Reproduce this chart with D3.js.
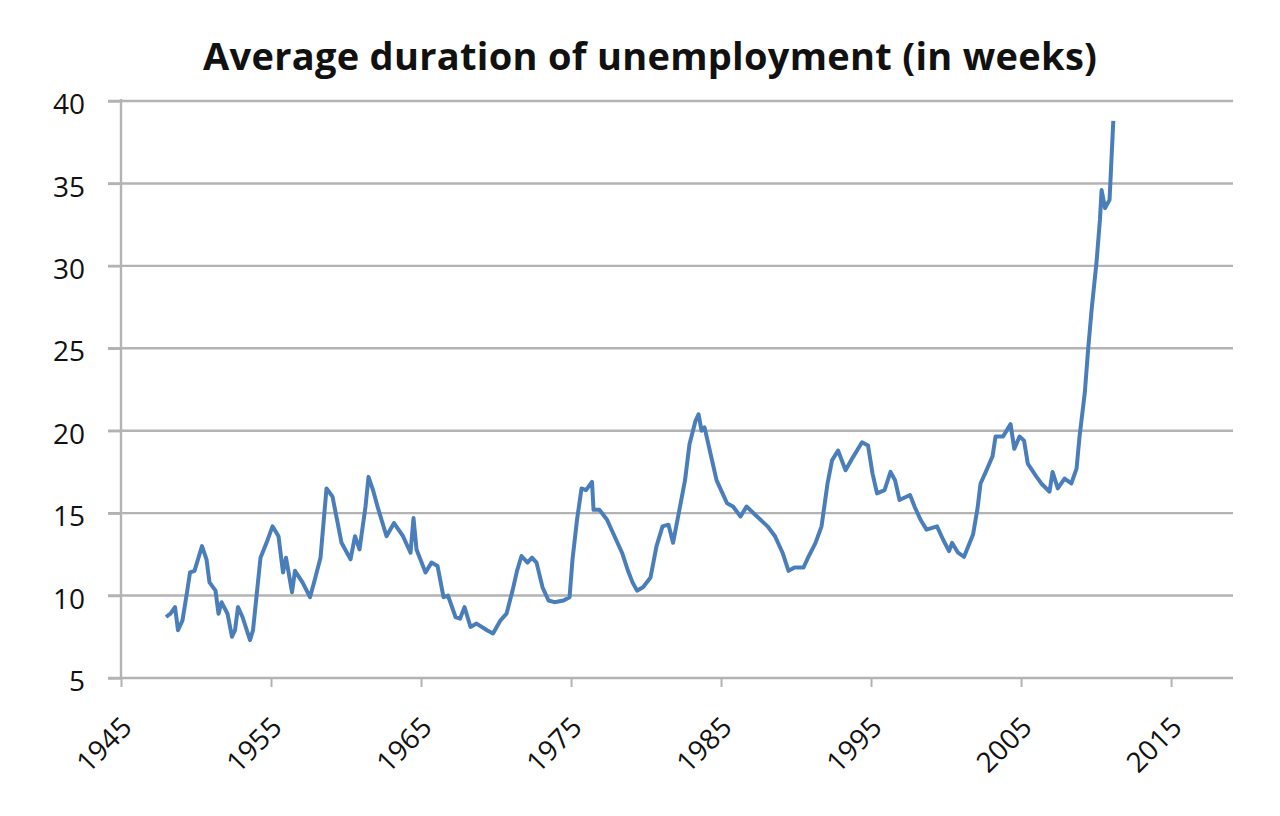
<!DOCTYPE html>
<html>
<head>
<meta charset="utf-8">
<script src="https://cdn.jsdelivr.net/npm/d3@7"></script>
<style>
  body { margin: 0; background: #fff; }
  text { font-family: "Open Sans", Lato, sans-serif; fill: #111; }
</style>
</head>
<body>
<div id="chart"></div>
<script>
// data (year, average weeks)
let years = [
  1948.0, 1948.3, 1948.6, 1948.8, 1949.1, 1949.4, 1949.6, 1949.9, 1950.4, 1950.7,
  1950.9, 1951.3, 1951.5, 1951.7, 1952.1, 1952.4, 1952.6, 1952.8, 1953.1, 1953.6,
  1953.8, 1954.3, 1954.7, 1955.1, 1955.5, 1955.8, 1956.0, 1956.4, 1956.6, 1957.1,
  1957.6, 1957.9, 1958.3, 1958.7, 1959.1, 1959.4, 1959.7, 1960.3, 1960.6, 1960.9,
  1961.3, 1961.5, 1961.8, 1962.1, 1962.7, 1963.2, 1963.8, 1964.3, 1964.5, 1964.7,
  1965.3, 1965.7, 1966.1, 1966.5, 1966.8, 1967.3, 1967.6, 1967.9, 1968.3, 1968.7,
  1969.4, 1969.8, 1970.3, 1970.7, 1971.1, 1971.4, 1971.7, 1972.1, 1972.4, 1972.7,
  1973.1, 1973.5, 1973.9, 1974.5, 1974.9, 1975.1, 1975.4, 1975.7, 1976.0, 1976.4,
  1976.5, 1976.9, 1977.4, 1977.9, 1978.4, 1978.8, 1979.1, 1979.4, 1979.8, 1980.3,
  1980.7, 1981.1, 1981.5, 1981.8, 1982.1, 1982.6, 1982.9, 1983.3, 1983.5, 1983.7,
  1983.9, 1984.3, 1984.7, 1985.1, 1985.4, 1985.8, 1986.3, 1986.7, 1987.4, 1988.1,
  1988.6, 1989.1, 1989.5, 1989.9, 1990.5, 1990.8, 1991.3, 1991.7, 1992.1, 1992.4,
  1992.8, 1993.3, 1993.8, 1994.4, 1994.8, 1995.1, 1995.4, 1995.9, 1996.3, 1996.6,
  1996.9, 1997.6, 1997.9, 1998.3, 1998.7, 1999.4, 1999.8, 2000.2, 2000.4, 2000.8,
  2001.2, 2001.8, 2002.1, 2002.3, 2002.65, 2003.1, 2003.3, 2003.8, 2004.3, 2004.55,
  2004.9, 2005.2, 2005.45, 2006.0, 2006.35, 2006.9, 2007.1, 2007.45, 2007.9, 2008.35,
  2008.7, 2008.9, 2009.25, 2009.47, 2009.7, 2010.03, 2010.26, 2010.37, 2010.6, 2010.9,
  2011.15
];
let weeks = [
  8.7, 8.9, 9.3, 7.9, 8.5, 10.2, 11.4, 11.5, 13.0, 12.2,
  10.8, 10.3, 8.9, 9.6, 8.9, 7.5, 7.9, 9.3, 8.7, 7.3,
  7.9, 12.3, 13.2, 14.2, 13.6, 11.4, 12.3, 10.2, 11.5, 10.8,
  9.9, 10.9, 12.3, 16.5, 16.0, 14.6, 13.2, 12.2, 13.6, 12.8,
  15.4, 17.2, 16.4, 15.4, 13.6, 14.4, 13.6, 12.6, 14.7, 12.8,
  11.4, 12.0, 11.8, 9.9, 10.0, 8.7, 8.6, 9.3, 8.1, 8.3,
  7.9, 7.7, 8.5, 8.9, 10.3, 11.5, 12.4, 12.0, 12.3, 12.0,
  10.5, 9.7, 9.6, 9.7, 9.9, 12.2, 14.6, 16.5, 16.4, 16.9,
  15.2, 15.2, 14.6, 13.6, 12.6, 11.5, 10.8, 10.3, 10.5, 11.1,
  13.0, 14.2, 14.3, 13.2, 14.6, 17.0, 19.2, 20.6, 21.0, 20.0,
  20.2, 18.6, 17.0, 16.2, 15.6, 15.4, 14.8, 15.4, 14.8, 14.2,
  13.6, 12.6, 11.5, 11.7, 11.7, 12.3, 13.2, 14.2, 16.8, 18.2,
  18.8, 17.6, 18.4, 19.3, 19.1, 17.4, 16.2, 16.4, 17.5, 17.0,
  15.8, 16.1, 15.4, 14.6, 14.0, 14.2, 13.4, 12.7, 13.2, 12.6,
  12.35, 13.7, 15.3, 16.8, 17.5, 18.45, 19.65, 19.65, 20.4, 18.9,
  19.65, 19.4, 18.0, 17.25, 16.8, 16.3, 17.5, 16.5, 17.1, 16.8,
  17.7, 19.65, 22.3, 24.9, 27.3, 30.2, 32.8, 34.6, 33.5, 34.0,
  38.8
];
let yTicks = [5, 10, 15, 20, 25, 30, 35, 40];
let xTicks = [1945, 1955, 1965, 1975, 1985, 1995, 2005, 2015];
let title = 'Average duration of unemployment (in weeks)';

// svg size and plot area
let svgWidth = 1280;
let svgHeight = 816;
let margin = { top: 101, right: 47, bottom: 138, left: 121 };
let width = svgWidth - margin.left - margin.right;
let height = svgHeight - margin.top - margin.bottom;

let svg = d3.select('#chart')
  .append('svg')
  .attr('width', svgWidth)
  .attr('height', svgHeight);

let chartGroup = svg.append('g')
  .attr('transform', `translate(${margin.left}, ${margin.top})`);

// scales
let xScale = d3.scaleLinear()
  .domain([1945, 2019.13])
  .range([0, width]);

let yScale = d3.scaleLinear()
  .domain([5, 40])
  .range([height, 0]);

// horizontal gridlines
chartGroup.append('g')
  .selectAll('line')
  .data(yTicks.filter(d => d > 5))
  .enter()
  .append('line')
  .attr('x1', -13)
  .attr('x2', width)
  .attr('y1', d => yScale(d))
  .attr('y2', d => yScale(d))
  .attr('stroke', '#b3b3b3')
  .attr('stroke-width', 2.4);

// y axis
let leftAxis = d3.axisLeft(yScale)
  .tickValues(yTicks)
  .tickSize(13)
  .tickPadding(23);

let yAxis = chartGroup.append('g')
  .call(leftAxis);

yAxis.select('.domain').remove();
yAxis.append('line')
  .attr('x1', 0).attr('x2', 0)
  .attr('y1', -2).attr('y2', height)
  .attr('stroke', '#b3b3b3')
  .attr('stroke-width', 2.4);
yAxis.selectAll('.tick line')
  .attr('stroke', '#b3b3b3')
  .attr('stroke-width', 2.4);
yAxis.selectAll('.tick text')
  .attr('font-size', 28)
  .attr('dy', '0.45em');

// x axis
let bottomAxis = d3.axisBottom(xScale)
  .tickValues(xTicks)
  .tickFormat(d3.format('d'))
  .tickSize(9);

let xAxis = chartGroup.append('g')
  .attr('transform', `translate(0, ${height})`)
  .call(bottomAxis);

xAxis.select('.domain')
  .attr('stroke', '#b3b3b3')
  .attr('stroke-width', 2.4)
  .attr('d', `M-13,0H${width}`);
xAxis.selectAll('.tick line')
  .attr('stroke', '#b3b3b3')
  .attr('stroke-width', 2);
xAxis.selectAll('.tick text')
  .attr('font-size', 28)
  .attr('text-anchor', 'end')
  .attr('x', 0)
  .attr('y', 0)
  .attr('dy', 0)
  .attr('transform', 'translate(12, 51) rotate(-45)');

// the line
let lineData = years.map((y, i) => ({ year: y, value: weeks[i] }));

let line = d3.line()
  .x(d => xScale(d.year))
  .y(d => yScale(d.value));

chartGroup.append('path')
  .datum(lineData)
  .attr('fill', 'none')
  .attr('stroke', '#4a7ebb')
  .attr('stroke-width', 4)
  .attr('stroke-linejoin', 'round')
  .attr('d', line);

// title
svg.append('text')
  .attr('x', 650)
  .attr('y', 70)
  .attr('text-anchor', 'middle')
  .attr('font-size', 38)
  .attr('font-weight', 'bold')
  .attr('textLength', 894)
  .attr('lengthAdjust', 'spacing')
  .text(title);
</script>
</body>
</html>
